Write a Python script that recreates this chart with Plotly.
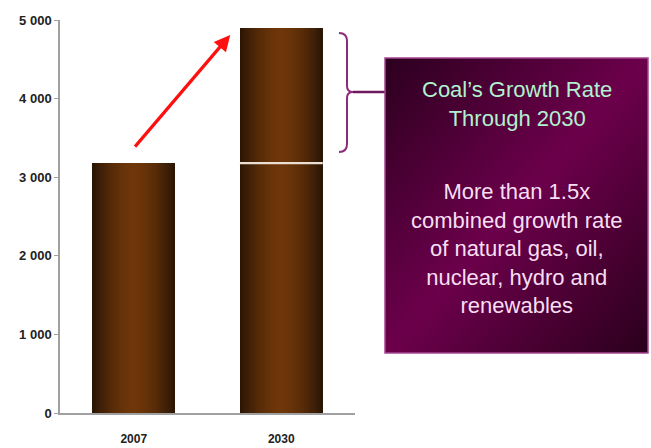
import base64
import plotly.graph_objects as go

# ---------------- data ----------------
categories = ["2007", "2030"]
coal_demand = [3180, 4900]
y_tick_vals = [0, 1000, 2000, 3000, 4000, 5000]
y_tick_text = ["0", "1 000", "2 000", "3 000", "4 000", "5 000"]
box_title = "Coal\u2019s Growth Rate<br>Through 2030"
box_body = ("More than 1.5x<br>combined growth rate<br>of natural gas, oil,<br>"
            "nuclear, hydro and<br>renewables")

# ---------------- layout geometry (pixels) ----------------
W, H = 651, 448
L, R, T, B = 60, 296, 20, 35
plot_w = W - L - R
plot_h = H - T - B


def px(x):
    return (x - L) / plot_w


def py(y):
    return (H - B - y) / plot_h


bar_width = 0.563
n_layers = 18
dark = (40, 20, 4)
light = (110, 54, 9)

fig = go.Figure()
for k in range(n_layers):
    frac = 1 - k / n_layers
    d = 1 - (k + 0.5) / n_layers
    t = d ** 1.7
    col = tuple(int(round(light[i] + (dark[i] - light[i]) * t)) for i in range(3))
    fig.add_trace(go.Bar(
        x=categories, y=coal_demand,
        width=bar_width * frac,
        marker=dict(color="rgb(%d,%d,%d)" % col, line=dict(width=0)),
        showlegend=False, hoverinfo="skip",
    ))

# separator in 2030 bar at 2007 level
fig.add_shape(type="line", xref="x", yref="y",
              x0=1 - bar_width / 2, x1=1 + bar_width / 2,
              y0=coal_demand[0], y1=coal_demand[0],
              line=dict(color="#eadfd2", width=2.2), layer="above")

# red growth arrow
fig.add_annotation(x=0.654, y=4810, ax=0, ay=3370, xref="x", yref="y",
                   axref="x", ayref="y", text="", showarrow=True,
                   arrowhead=2, arrowsize=1.0, arrowwidth=3.2,
                   arrowcolor="#ff1010")

# bracket "}"
bx0, bxv, bxm = 339, 347, 353
yt, ym, yb = 33, 92, 152
path = (f"M {px(bx0)},{py(yt)} Q {px(bxv)},{py(yt)} {px(bxv)},{py(yt+8)} "
        f"L {px(bxv)},{py(ym-6)} Q {px(bxv)},{py(ym)} {px(bxm)},{py(ym)} "
        f"Q {px(bxv)},{py(ym)} {px(bxv)},{py(ym+6)} "
        f"L {px(bxv)},{py(yb-8)} Q {px(bxv)},{py(yb)} {px(bx0)},{py(yb)}")
fig.add_shape(type="path", xref="paper", yref="paper", path=path,
              line=dict(color="#8e2a7c", width=2))
fig.add_shape(type="line", xref="paper", yref="paper",
              x0=px(bxm), x1=px(386), y0=py(ym), y1=py(ym),
              line=dict(color="#6e1a5e", width=2.5))

# callout box with diagonal gradient
box_x0, box_x1, box_y0, box_y1 = 385, 648, 58, 353
svg = ('<svg xmlns="http://www.w3.org/2000/svg" width="263" height="295" '
       'preserveAspectRatio="none">'
       '<defs><linearGradient id="g" x1="0" y1="0" x2="1" y2="1">'
       '<stop offset="0" stop-color="#2c001f"/>'
       '<stop offset="0.5" stop-color="#6c004b"/>'
       '<stop offset="1" stop-color="#2a001c"/>'
       '</linearGradient></defs>'
       '<rect width="263" height="295" fill="url(#g)"/></svg>')
src = "data:image/svg+xml;base64," + base64.b64encode(svg.encode()).decode()
fig.add_layout_image(source=src, xref="paper", yref="paper",
                     x=px(box_x0), y=py(box_y0),
                     sizex=px(box_x1) - px(box_x0), sizey=py(box_y0) - py(box_y1),
                     xanchor="left", yanchor="top", sizing="stretch", layer="above")
fig.add_shape(type="rect", xref="paper", yref="paper",
              x0=px(box_x0), x1=px(box_x1), y0=py(box_y1), y1=py(box_y0),
              line=dict(color="#a44690", width=1.5), fillcolor="rgba(0,0,0,0)")

cx = px((box_x0 + box_x1) / 2)
fig.add_annotation(x=cx, y=py(104), xref="paper", yref="paper",
                   text=box_title, showarrow=False, align="center",
                   xanchor="center", yanchor="middle",
                   font=dict(family="Liberation Sans, Arial", size=22, color="#b0f2cf"))
fig.add_annotation(x=cx, y=py(248), xref="paper", yref="paper",
                   text=box_body, showarrow=False, align="center",
                   xanchor="center", yanchor="middle",
                   font=dict(family="Liberation Sans, Arial", size=22, color="#f7def3"))

fig.update_layout(
    width=W, height=H, barmode="overlay", bargap=0,
    margin=dict(l=L, r=R, t=T, b=B, pad=0, autoexpand=False),
    paper_bgcolor="white", plot_bgcolor="white",
    showlegend=False,
    font=dict(family="Liberation Sans, Arial", color="#222222"),
)
fig.update_xaxes(type="category", range=[-0.5, 1.5], showgrid=False,
                 automargin=False,
                 showline=True, linecolor="#a0a0a0", linewidth=1.5,
                 ticks="", ticklabelstandoff=14,
                 tickfont=dict(size=12, color="#222222", family="Liberation Sans, Arial",
                               weight="bold"))
fig.update_yaxes(range=[0, 5000], showgrid=False, zeroline=False,
                 automargin=False,
                 showline=True, linecolor="#a0a0a0", linewidth=1.5,
                 ticks="outside", ticklen=4, tickcolor="#a0a0a0", tickwidth=1.2,
                 tickvals=y_tick_vals, ticktext=y_tick_text,
                 tickfont=dict(size=13, color="#222222", family="Liberation Sans, Arial",
                               weight="bold"))

fig.write_html("out.html")
